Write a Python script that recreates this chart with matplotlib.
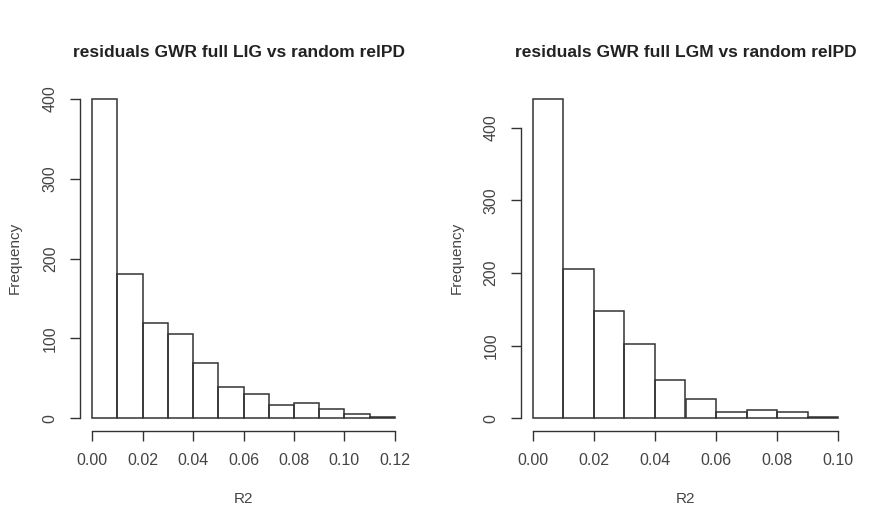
import matplotlib.pyplot as plt
import numpy as np

plt.rcParams["font.family"] = ["Liberation Sans", "DejaVu Sans"]

# histogram counts (bin width 0.01)
lig_counts = [400, 181, 119, 105, 69, 39, 30, 17, 19, 12, 5, 2]
lgm_counts = [440, 205, 147, 102, 52, 27, 9, 11, 9, 2]
lig_edges = np.round(np.arange(0, 0.1201, 0.01), 2)
lgm_edges = np.round(np.arange(0, 0.1001, 0.01), 2)

lig_xticks = [0.00, 0.02, 0.04, 0.06, 0.08, 0.10, 0.12]
lgm_xticks = [0.00, 0.02, 0.04, 0.06, 0.08, 0.10]
yticks = [0, 100, 200, 300, 400]

titles = ["residuals GWR full LIG vs random relPD",
          "residuals GWR full LGM vs random relPD"]

W, H = 877, 520
fig = plt.figure(figsize=(W / 100, H / 100), dpi=100)

LINE = "#333333"
TEXT = "#444444"


def r_hist(rect, counts, edges, xticks, title, ylab_x, title_x=0.5):
    ax = fig.add_axes(rect)
    ax.bar(edges[:-1], counts, width=np.diff(edges), align="edge",
           fill=False, edgecolor=LINE, linewidth=1.1)
    # R default: 4% extension of the data range
    x0, x1 = edges[0], edges[-1]
    dx = (x1 - x0) * 0.04
    ax.set_xlim(x0 - dx, x1 + dx)
    ymax = max(counts)
    ax.set_ylim(-ymax * 0.04, ymax * 1.04)

    for s in ["top", "right"]:
        ax.spines[s].set_visible(False)
    ax.spines["left"].set_bounds(yticks[0], yticks[-1])
    ax.spines["bottom"].set_bounds(xticks[0], xticks[-1])
    for s in ["left", "bottom"]:
        ax.spines[s].set_color(LINE)
        ax.spines[s].set_linewidth(1.0)

    ax.set_xticks(xticks)
    ax.set_xticklabels([f"{t:.2f}" for t in xticks])
    ax.set_yticks(yticks)
    ax.set_yticklabels([str(t) for t in yticks], rotation=90, va="center")
    ax.tick_params(direction="out", length=7, width=1.0, color=LINE,
                   labelcolor=TEXT, labelsize=11.5)
    ax.tick_params(axis="x", pad=9)
    ax.tick_params(axis="y", pad=9)

    ax.set_title(title, fontsize=12.5, fontweight="bold", color="#222222",
                 pad=21, x=title_x)
    ax.set_xlabel("R2", fontsize=11, color=TEXT, labelpad=17)
    fig.text(ylab_x / W, 1 - 258 / H, "Frequency", rotation=90,
             ha="center", va="center", fontsize=11, color=TEXT)
    return ax


def rect_px(left, right, top, bottom):
    return [left / W, 1 - bottom / H, (right - left) / W, (bottom - top) / H]


r_hist(rect_px(80, 407, 86, 431), lig_counts, lig_edges, lig_xticks,
       titles[0], 15, title_x=0.485)
r_hist(rect_px(520.5, 850.5, 86, 431), lgm_counts, lgm_edges, lgm_xticks,
       titles[1], 457)

fig.savefig("out.png", dpi=100, facecolor="white")
